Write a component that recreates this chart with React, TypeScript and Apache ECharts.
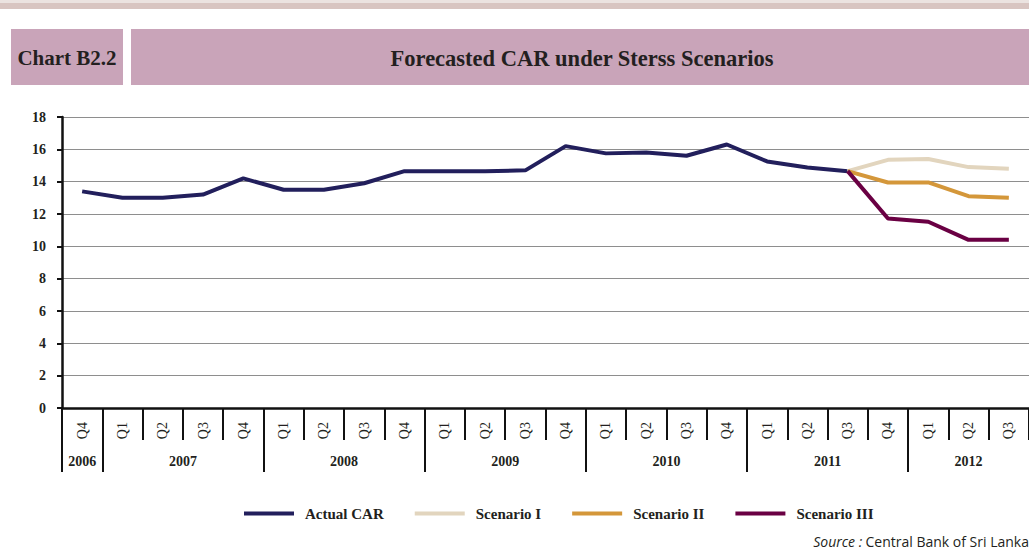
import React, { useEffect, useRef } from "react";
import * as echarts from "echarts";

const quarters = [
  "Q4",
  "Q1", "Q2", "Q3", "Q4",
  "Q1", "Q2", "Q3", "Q4",
  "Q1", "Q2", "Q3", "Q4",
  "Q1", "Q2", "Q3", "Q4",
  "Q1", "Q2", "Q3", "Q4",
  "Q1", "Q2", "Q3",
];
const years = ["2006", "2007", "2008", "2009", "2010", "2011", "2012"];
const yearLabelPos = [0.5, 3, 7, 11, 15, 19, 22.5];
const yearBoundaries = [0, 1, 5, 9, 13, 17, 21];

const actualCAR = [
  13.4, 13.0, 13.0, 13.2, 14.2, 13.5, 13.5, 13.9, 14.65, 14.65, 14.65, 14.7,
  16.2, 15.75, 15.8, 15.6, 16.3, 15.25, 14.88, 14.65,
];
const scenarioStart = 19;
const scenarioI = [14.65, 15.35, 15.4, 14.9, 14.8];
const scenarioII = [14.65, 13.95, 13.95, 13.1, 13.0];
const scenarioIII = [14.65, 11.72, 11.52, 10.4, 10.4];

const SERIF = "'Liberation Serif', 'Times New Roman', serif";
const SANS = "'Open Sans', 'Noto Sans', sans-serif";
const TXT = "#231f20";

function pad(arr: number[], start: number, len: number): (number | null)[] {
  const out: (number | null)[] = [];
  for (let i = 0; i < len; i++) {
    const j = i - start;
    out.push(j >= 0 && j < arr.length ? arr[j] : null);
  }
  return out;
}

export default function App() {
  const ref = useRef<HTMLDivElement>(null);
  useEffect(() => {
    document.body.style.margin = "0";
    const chart = echarts.init(ref.current!, null, { renderer: "svg" });
    const n = quarters.length;
    const lineSeries = (name: string, data: (number | null)[], color: string) => ({
      name,
      type: "line",
      data,
      symbol: "none",
      connectNulls: false,
      lineStyle: { color, width: 4 },
      itemStyle: { color },
    });
    chart.setOption({
      animation: false,
      backgroundColor: "#ffffff",
      textStyle: { fontFamily: SERIF },
      grid: { left: 62, top: 117, width: 969, height: 291 },
      legend: {
        left: 239,
        top: 501,
        icon: "rect",
        itemWidth: 50,
        itemHeight: 4,
        itemGap: 31,
        textStyle: {
          fontFamily: SERIF,
          fontWeight: "bold",
          fontSize: 15,
          color: TXT,
          padding: [0, 0, 0, 6],
        },
        data: ["Actual CAR", "Scenario I", "Scenario II", "Scenario III"],
      },
      xAxis: [
        {
          type: "category",
          data: quarters,
          boundaryGap: true,
          axisLine: { show: true, lineStyle: { color: "#111", width: 2.5 } },
          axisTick: {
            show: true,
            interval: 0,
            length: 32,
            lineStyle: { color: "#111", width: 2 },
          },
          axisLabel: {
            interval: 0,
            rotate: 90,
            margin: 14,
            fontFamily: SERIF,
            fontSize: 14,
            color: TXT,
          },
          splitLine: { show: false },
        },
        {
          type: "value",
          min: 0,
          max: n,
          position: "bottom",
          offset: 32,
          axisLine: { show: false },
          axisTick: {
            show: true,
            customValues: yearBoundaries,
            length: 32,
            lineStyle: { color: "#111", width: 2 },
          },
          axisLabel: {
            customValues: yearLabelPos,
            margin: 14,
            fontFamily: SERIF,
            fontWeight: "bold",
            fontSize: 14,
            color: TXT,
            formatter: (v: number) => {
              const idx = yearLabelPos.indexOf(v);
              return idx >= 0 ? years[idx] : "";
            },
          },
          splitLine: { show: false },
        },
      ],
      yAxis: {
        type: "value",
        min: 0,
        max: 18,
        interval: 2,
        axisLine: { show: true, lineStyle: { color: "#111", width: 2.5 } },
        axisTick: { show: true, length: 5, lineStyle: { color: "#111", width: 2 } },
        axisLabel: {
          margin: 16,
          fontFamily: SERIF,
          fontWeight: "bold",
          fontSize: 14,
          color: TXT,
        },
        splitLine: { lineStyle: { color: "#8e8e8e", width: 1 } },
      },
      series: [
        lineSeries("Actual CAR", pad(actualCAR, 0, n), "#221f5c"),
        lineSeries("Scenario I", pad(scenarioI, scenarioStart, n), "#e2d5be"),
        lineSeries("Scenario II", pad(scenarioII, scenarioStart, n), "#d4973a"),
        lineSeries("Scenario III", pad(scenarioIII, scenarioStart, n), "#6a0043"),
      ],
      graphic: [
        { type: "rect", left: 0, top: 0, shape: { width: 1029, height: 3 }, style: { fill: "#ebe3e0" } },
        { type: "rect", left: 0, top: 3, shape: { width: 1029, height: 6 }, style: { fill: "#d8c5c1" } },
        { type: "rect", left: 11, top: 29, shape: { width: 112, height: 56 }, style: { fill: "#c9a4b9" } },
        { type: "rect", left: 131, top: 29, shape: { width: 898, height: 56 }, style: { fill: "#c9a4b9" } },
        {
          type: "text",
          x: 67,
          y: 58,
          style: {
            text: "Chart B2.2",
            fill: TXT,
            font: `bold 21px ${SERIF}`,
            textAlign: "center",
            textVerticalAlign: "middle",
          },
        },
        {
          type: "text",
          x: 582,
          y: 58,
          style: {
            text: "Forecasted CAR under Sterss Scenarios",
            fill: TXT,
            font: `bold 22.5px ${SERIF}`,
            textAlign: "center",
            textVerticalAlign: "middle",
          },
        },
        {
          type: "text",
          right: 0,
          top: 534,
          style: {
            text: "{i|Source :} {n|Central Bank of Sri Lanka}",
            rich: {
              i: { fontStyle: "italic", fontFamily: SANS, fontSize: 14, fill: TXT },
              n: { fontFamily: SANS, fontSize: 14, fill: TXT },
            },
          },
        },
      ],
    });
    return () => chart.dispose();
  }, []);
  return <div ref={ref} style={{ width: 1029, height: 555 }} />;
}
